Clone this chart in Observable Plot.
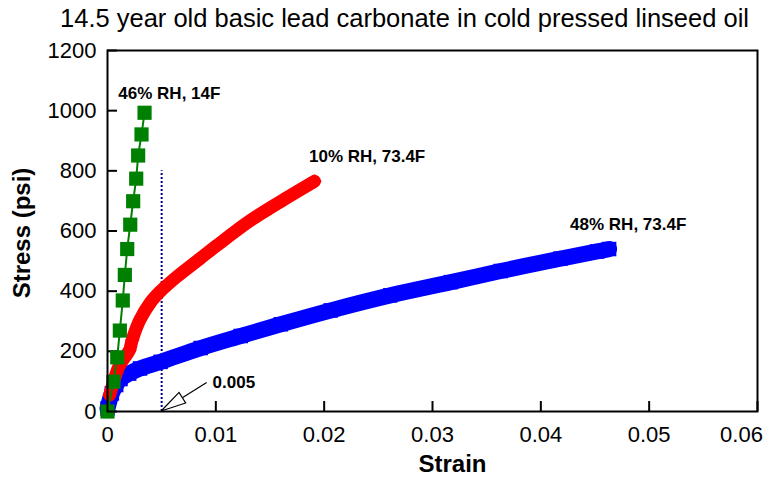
<!DOCTYPE html>
<html><head><meta charset="utf-8">
<script src="https://cdn.jsdelivr.net/npm/d3@7"></script>
<script src="https://cdn.jsdelivr.net/npm/@observablehq/plot@0.6"></script>
<style>body{margin:0;background:#fff;}</style>
</head><body><div id="chart"></div>
<script>
const title = "14.5 year old basic lead carbonate in cold pressed linseed oil";
const xLabel = "Strain";
const yLabel = "Stress (psi)";
const xTicks = [0, 0.01, 0.02, 0.03, 0.04, 0.05, 0.06];
const yTicks = [0, 200, 400, 600, 800, 1000, 1200];

const greenStrain = [0, 0.00055, 0.0009, 0.00114, 0.00141, 0.0016, 0.00182, 0.0021, 0.00237, 0.00265, 0.00283, 0.00314, 0.00342];
const greenStress = [0, 99, 180, 269, 369, 454, 540, 621, 699, 774, 851, 921, 993];

const redStrain = [0.0002, 0.0007, 0.00105, 0.0015, 0.00203, 0.00228, 0.003, 0.004, 0.0049, 0.0063, 0.0086, 0.0101, 0.0132, 0.0163, 0.0191];
const redStress = [55, 115, 149, 175, 204, 238, 305, 364, 400, 445, 510, 552, 635, 705, 765];

const blueStrain = [0, 0.0004, 0.0008, 0.0012, 0.002, 0.003, 0.0049, 0.0086, 0.0123, 0.016, 0.0206, 0.0261, 0.0317, 0.0363, 0.0418, 0.0452, 0.0463];
const blueStress = [10, 60, 88, 108, 126, 143, 165, 211, 251, 290, 336, 386, 430, 467, 508, 532, 540];

const refStrain = [0.005];
const refTop = [800];

const labelText = ["46% RH, 14F", "10% RH, 73.4F", "48% RH, 73.4F", "0.005"];
const labelStrain = [0.001, 0.0186, 0.0427, 0.0097];
const labelStress = [1057, 847, 622, 97];

const arrowFrom = [0.0092, 95];
const arrowTo = [0.005, 0];

const green = greenStrain.map((x, i) => ({x, y: greenStress[i]}));
const red = redStrain.map((x, i) => ({x, y: redStress[i]}));
const blue = blueStrain.map((x, i) => ({x, y: blueStress[i]}));
const labels = labelText.map((t, i) => ({t, x: labelStrain[i], y: labelStress[i]}));

const chart = Plot.plot({
  width: 765,
  height: 477,
  marginLeft: 107,
  marginRight: 8,
  marginTop: 50,
  marginBottom: 66,
  style: {fontFamily: "'Liberation Sans', Arial, Helvetica, sans-serif", background: "white", color: "black", overflow: "visible"},
  x: {domain: [0, 0.06]},
  y: {domain: [0, 1200]},
  marks: [
    Plot.axisY(yTicks, {tickSize: 0, tickPadding: 11, fontSize: 22, label: null, tickFormat: String}),
    Plot.axisX(xTicks.slice(0, -1), {tickSize: 0, tickPadding: 15, fontSize: 22, label: null, tickFormat: String}),
    Plot.axisX(xTicks.slice(-1), {tickSize: 0, tickPadding: 15, fontSize: 22, label: null, tickFormat: String, dx: -16}),
    Plot.tickY(yTicks, {y: d => d, stroke: "black", strokeWidth: 2, insetRight: 640}),
    Plot.tickX(xTicks, {x: d => d, stroke: "black", strokeWidth: 2, insetTop: 351}),
    Plot.ruleX(refStrain, {x: d => d, y1: 0, y2: (d, i) => refTop[i], stroke: "#000080", strokeWidth: 2, strokeDasharray: "2,2"}),
    Plot.line(blue, {x: "x", y: "y", stroke: "#0000ff", strokeWidth: 16, strokeLinejoin: "round", curve: "catmull-rom"}),
    Plot.dot(blue, {x: "x", y: "y", symbol: "square", r: 8.2, fill: "#0000ff"}),
    Plot.line(red, {x: "x", y: "y", stroke: "#ff0000", strokeWidth: 13, strokeLinejoin: "round", curve: "catmull-rom"}),
    Plot.dot(red, {x: "x", y: "y", symbol: "diamond2", r: 6.5, fill: "#ff0000"}),
    Plot.line(green, {x: "x", y: "y", stroke: "#008000", strokeWidth: 2}),
    Plot.dot(green, {x: "x", y: "y", symbol: "square", r: 8, fill: "#008000"}),
    Plot.text(labels, {x: "x", y: "y", text: "t", textAnchor: "start", fontWeight: "bold", fontSize: 17, fill: "black"}),
    Plot.frame({stroke: "black", strokeWidth: 2}),
    Plot.text([title], {frameAnchor: "top", dx: -28, dy: -42, fontSize: 25.5, fill: "black"}),
    Plot.text([xLabel], {frameAnchor: "bottom", dx: 20, dy: 60, fontSize: 24, fontWeight: "bold", fill: "black"}),
    Plot.text([yLabel], {frameAnchor: "left", textAnchor: "middle", dx: -85, dy: 2, rotate: -90, fontSize: 24, fontWeight: "bold", fill: "black"})
  ]
});
document.getElementById("chart").appendChild(chart);

// arrow with open triangular head, placed through the plot's scales
const sx = chart.scale("x"), sy = chart.scale("y");
const tip = [sx.apply(arrowTo[0]), sy.apply(arrowTo[1])];
const tail = [sx.apply(arrowFrom[0]), sy.apply(arrowFrom[1])];
const dxv = tail[0] - tip[0], dyv = tail[1] - tip[1];
const len = Math.hypot(dxv, dyv), ux = dxv / len, uy = dyv / len;
const hl = 25, hw = 6.2;
const bx = tip[0] + ux * hl, by = tip[1] + uy * hl;
const svg = d3.select(chart);
svg.append("line").attr("x1", bx).attr("y1", by).attr("x2", tail[0]).attr("y2", tail[1])
  .attr("stroke", "black").attr("stroke-width", 1.2);
svg.append("path")
  .attr("d", `M${tip[0]},${tip[1]}L${bx - uy * hw},${by + ux * hw}L${bx + uy * hw},${by - ux * hw}Z`)
  .attr("fill", "white").attr("stroke", "black").attr("stroke-width", 1.2);
</script>
</body></html>
